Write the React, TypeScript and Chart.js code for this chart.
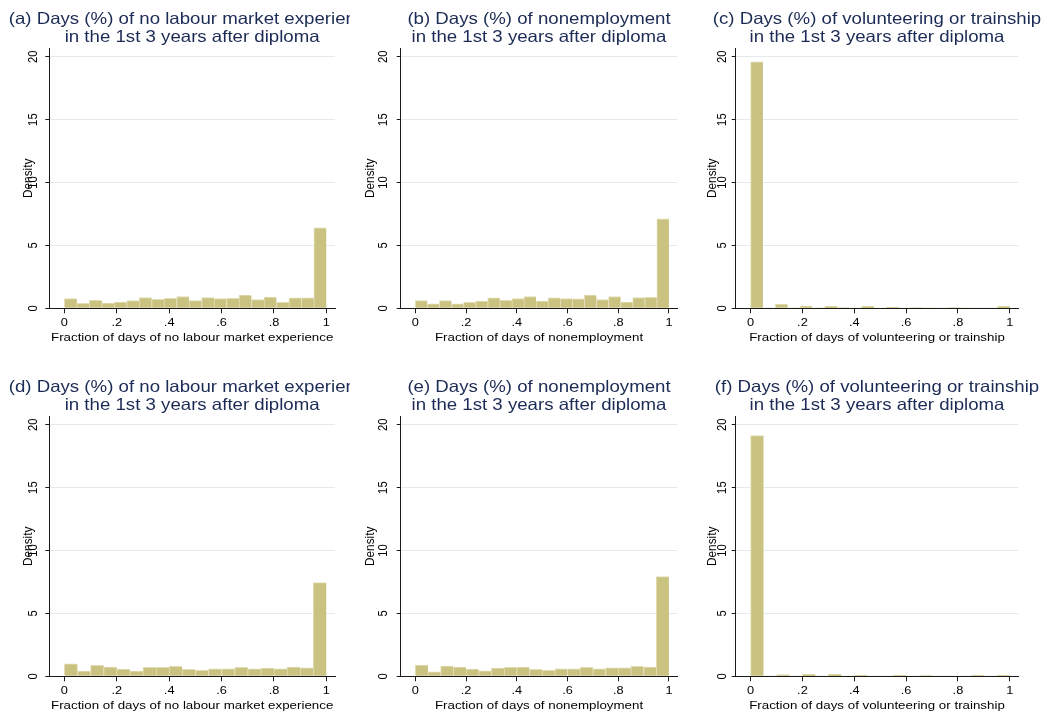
import { useEffect, useRef } from 'react';
import { Chart, registerables } from 'chart.js';

Chart.register(...registerables);

// Histogram densities, one value per equal-width bin on [0, 1]
const NO_LABOUR_TOP = [0.77, 0.4, 0.63, 0.41, 0.5, 0.62, 0.86, 0.71, 0.8, 0.94, 0.61, 0.85, 0.77, 0.8, 1.05, 0.7, 0.9, 0.47, 0.83, 0.83, 6.4];
const NONEMPLOYMENT_TOP = [0.62, 0.36, 0.62, 0.36, 0.47, 0.57, 0.84, 0.63, 0.78, 0.94, 0.57, 0.84, 0.78, 0.76, 1.05, 0.7, 0.94, 0.49, 0.86, 0.88, 7.12];
const VOLUNTEERING_TOP = [19.6, 0.03, 0.33, 0.04, 0.18, 0.04, 0.16, 0.05, 0.03, 0.16, 0.03, 0.08, 0.03, 0.05, 0.04, 0.03, 0.05, 0.04, 0.02, 0.03, 0.15];
const NO_LABOUR_BOTTOM = [1.0, 0.41, 0.87, 0.74, 0.57, 0.41, 0.71, 0.71, 0.79, 0.55, 0.47, 0.6, 0.6, 0.71, 0.6, 0.65, 0.6, 0.74, 0.68, 7.45];
const NONEMPLOYMENT_BOTTOM = [0.9, 0.36, 0.82, 0.74, 0.57, 0.44, 0.65, 0.71, 0.74, 0.55, 0.47, 0.6, 0.6, 0.71, 0.6, 0.68, 0.68, 0.79, 0.74, 7.92];
const VOLUNTEERING_BOTTOM = [19.13, 0.02, 0.13, 0.02, 0.15, 0.02, 0.15, 0.02, 0.07, 0.01, 0.02, 0.07, 0.01, 0.06, 0.01, 0.01, 0.01, 0.07, 0.01, 0.07];

const X_TICKS = [0, 0.2, 0.4, 0.6, 0.8, 1];
const X_TICK_LABELS = ['0', '.2', '.4', '.6', '.8', '1'];
const Y_TICKS = [0, 5, 10, 15, 20];
const Y_TICK_LABELS = ['0', '5', '10', '15', '20'];

const TITLE_LINE_2 = 'in the 1st 3 years after diploma';
const Y_TITLE = 'Density';

const X_MIN = -0.0575;
const X_MAX = 1.033;
const Y_MAX = 20.67;

// Styling
const FONT = '"Liberation Sans", Arial, Helvetica, sans-serif';
const STRETCH = 1.13;
const BAR_COLOR = 'rgb(202,194,128)';
const BAR_EDGE = 'rgb(226,221,180)';
const AXIS_COLOR = '#1a1a1a';
const GRID_COLOR = '#e3ebee';
const TITLE_COLOR = '#1c2b55';
const TEXT_COLOR = '#000000';

// Geometry of one panel canvas
const CANVAS_H = 347;
const PLOT_TOP = 48.3;
const PLOT_BOTTOM = 308.3;
const TITLE_Y1 = 24;
const TITLE_Y2 = 41.7;
const X_LABEL_Y = 326;
const X_TITLE_Y = 341;
const ROW_TOPS = [0, 368];
const COLUMNS = [
  { left: 0, width: 350, plotLeft: 49.3, plotRight: 335, yTickX: 37.3, yTitleX: 32 },
  { left: 350, width: 350, plotLeft: 50.7, plotRight: 327.3, yTickX: 36.7, yTitleX: 24 },
  { left: 700, width: 349, plotLeft: 35.7, plotRight: 318.3, yTickX: 26, yTitleX: 16.3 },
];

type PanelSpec = {
  title: string;
  xTitle: string;
  values: number[];
  row: number;
  col: number;
};

const PANELS: PanelSpec[] = [
  { title: '(a) Days (%) of no labour market experience', xTitle: 'Fraction of days of no labour market experience', values: NO_LABOUR_TOP, row: 0, col: 0 },
  { title: '(b) Days (%) of nonemployment', xTitle: 'Fraction of days of nonemployment', values: NONEMPLOYMENT_TOP, row: 0, col: 1 },
  { title: '(c) Days (%) of volunteering or trainship', xTitle: 'Fraction of days of volunteering or trainship', values: VOLUNTEERING_TOP, row: 0, col: 2 },
  { title: '(d) Days (%) of no labour market experience', xTitle: 'Fraction of days of no labour market experience', values: NO_LABOUR_BOTTOM, row: 1, col: 0 },
  { title: '(e) Days (%) of nonemployment', xTitle: 'Fraction of days of nonemployment', values: NONEMPLOYMENT_BOTTOM, row: 1, col: 1 },
  { title: '(f) Days (%) of volunteering or trainship', xTitle: 'Fraction of days of volunteering or trainship', values: VOLUNTEERING_BOTTOM, row: 1, col: 2 },
];

function drawText(
  ctx: CanvasRenderingContext2D,
  text: string,
  x: number,
  y: number,
  size: number,
  color: string,
  vertical: boolean
) {
  ctx.save();
  ctx.translate(x, y);
  ctx.scale(STRETCH, 1);
  if (vertical) ctx.rotate(-Math.PI / 2);
  ctx.font = `${size}px ${FONT}`;
  ctx.fillStyle = color;
  ctx.textAlign = 'center';
  ctx.textBaseline = 'alphabetic';
  ctx.fillText(text, 0, 0);
  ctx.restore();
}

function makeTextPlugin(spec: PanelSpec, column: (typeof COLUMNS)[number]) {
  return {
    id: 'panelText',
    afterDraw(chart: Chart) {
      const { ctx, chartArea, scales } = chart;
      const cx = (chartArea.left + chartArea.right) / 2;
      const cy = (chartArea.top + chartArea.bottom) / 2;

      drawText(ctx, spec.title, cx, TITLE_Y1, 16.5, TITLE_COLOR, false);
      drawText(ctx, TITLE_LINE_2, cx, TITLE_Y2, 16.5, TITLE_COLOR, false);

      const xs = scales.x;
      xs.ticks.forEach((t: any) => {
        const idx = X_TICKS.indexOf(t.value);
        const label = idx >= 0 ? X_TICK_LABELS[idx] : String(t.value);
        drawText(ctx, label, xs.getPixelForValue(t.value), X_LABEL_Y, 11.3, TEXT_COLOR, false);
      });
      drawText(ctx, spec.xTitle, cx, X_TITLE_Y, 11.8, TEXT_COLOR, false);

      const ys = scales.y;
      ys.ticks.forEach((t: any) => {
        const idx = Y_TICKS.indexOf(t.value);
        const label = idx >= 0 ? Y_TICK_LABELS[idx] : String(t.value);
        drawText(ctx, label, column.yTickX, ys.getPixelForValue(t.value), 11.3, TEXT_COLOR, true);
      });
      drawText(ctx, Y_TITLE, column.yTitleX, cy, 11.8, TEXT_COLOR, true);
    },
  };
}

function Panel({ spec }: { spec: PanelSpec }) {
  const ref = useRef<HTMLCanvasElement | null>(null);
  const column = COLUMNS[spec.col];

  useEffect(() => {
    const canvas = ref.current;
    if (!canvas) return;
    const n = spec.values.length;
    const chart = new Chart(canvas, {
      type: 'bar',
      data: {
        datasets: [
          {
            data: spec.values.map((v, i) => ({ x: (i + 0.5) / n, y: v })),
            backgroundColor: BAR_COLOR,
            borderColor: BAR_EDGE,
            borderWidth: { top: 1, left: 1, right: 0, bottom: 0 },
            barPercentage: 1,
            categoryPercentage: 1,
          } as any,
        ],
      },
      options: {
        responsive: false,
        animation: false,
        events: [],
        layout: {
          padding: { top: PLOT_TOP, right: column.width - column.plotRight, left: 0, bottom: 0 },
        },
        plugins: {
          legend: { display: false },
          tooltip: { enabled: false },
          title: { display: false },
        },
        scales: {
          x: {
            type: 'linear',
            min: X_MIN,
            max: X_MAX,
            offset: false,
            afterBuildTicks: (s: any) => {
              s.ticks = X_TICKS.map((value) => ({ value }));
            },
            afterFit: (s: any) => {
              s.height = CANVAS_H - PLOT_BOTTOM;
            },
            ticks: { display: false },
            grid: {
              display: true,
              offset: false,
              drawOnChartArea: false,
              drawTicks: true,
              tickLength: 5,
              tickColor: AXIS_COLOR,
            },
            border: { display: true, color: AXIS_COLOR, width: 1, z: 1 },
          },
          y: {
            type: 'linear',
            min: 0,
            max: Y_MAX,
            afterBuildTicks: (s: any) => {
              s.ticks = Y_TICKS.map((value) => ({ value }));
            },
            afterFit: (s: any) => {
              s.width = column.plotLeft;
            },
            ticks: { display: false },
            grid: {
              color: (c: any) => (c.tick && c.tick.value === 0 ? 'rgba(0,0,0,0)' : GRID_COLOR),
              lineWidth: 1,
              drawTicks: true,
              tickLength: 4,
              tickColor: AXIS_COLOR,
            },
            border: { display: true, color: AXIS_COLOR, width: 1, z: 1 },
          },
        },
      } as any,
      plugins: [makeTextPlugin(spec, column)],
    });
    return () => chart.destroy();
  }, [spec, column]);

  return (
    <canvas
      ref={ref}
      width={column.width}
      height={CANVAS_H}
      style={{
        position: 'absolute',
        left: column.left,
        top: ROW_TOPS[spec.row],
        width: column.width,
        height: CANVAS_H,
      }}
    />
  );
}

export default function App() {
  return (
    <div
      style={{
        position: 'absolute',
        left: 0,
        top: 0,
        width: 1049,
        height: 715,
        overflow: 'hidden',
        background: '#ffffff',
      }}
    >
      {PANELS.map((p) => (
        <Panel key={p.title} spec={p} />
      ))}
    </div>
  );
}
